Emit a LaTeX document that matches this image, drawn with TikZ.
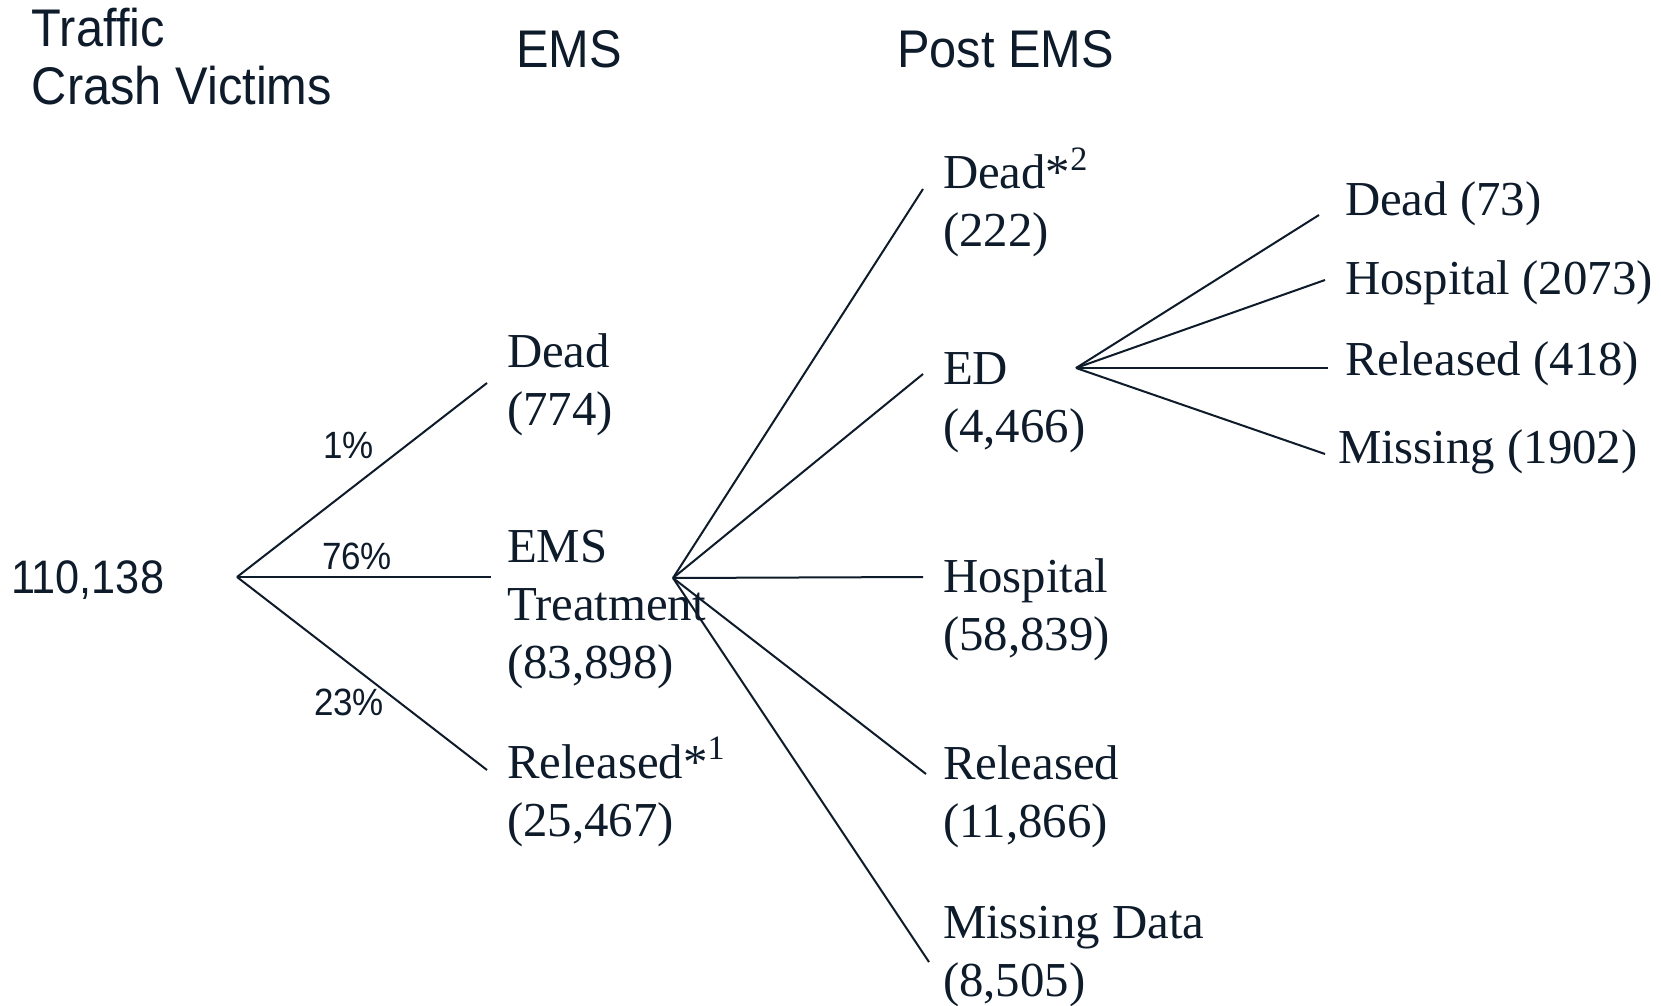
\documentclass[tikz,border=0pt]{standalone}
\usepackage{fontspec}
\setmainfont{Liberation Serif}
\newfontfamily\hdsans[FakeStretch=0.92]{Liberation Sans}
\usetikzlibrary{positioning,calc}
\definecolor{inkblue}{HTML}{0E1B2A}

\begin{document}
\begin{tikzpicture}[
    x=0.5pt, y=-0.5pt,
    every node/.style={inner sep=0pt, outer sep=0pt, text=inkblue},
    head/.style={anchor=base west, align=left, font=\hdsans\fontsize{26.5}{29}\selectfont},
    cnt/.style={anchor=base west, font=\hdsans\fontsize{23.5}{28}\selectfont},
    pct/.style={anchor=base west, font=\hdsans\fontsize{19}{22}\selectfont},
    lbl/.style={anchor=base west, align=left, font=\fontsize{24.4}{29}\selectfont},
    branch/.style={draw=inkblue, line width=1pt}
]
\fill[white] (0,0) rectangle (1661,1006);
\useasboundingbox (0,0) rectangle (1661,1006);

% Column headers (nodes sit on the baseline of their last line)
\node[head] (victims) at (32,105) {Traffic\\Crash Victims};
\node[head] (emshead) at (516,68) {EMS};
\node[head] (posthead) at (897,68) {Post EMS};

% Root
\node[cnt] (total) at (11,593) {110,138};
\coordinate (rootfan) at (237,577);

% EMS level
\node[lbl] (dead) at (507,425) {Dead\\(774)};
\node[lbl] (treat) at (507,678) {EMS\\Treatment\\(83,898)};
\node[lbl] (released) at (507,836) {Released*\textsuperscript{1}\\(25,467)};
\coordinate (deadin) at (487,383);
\coordinate (treatin) at (491,577);
\coordinate (relin) at (487,770);

% Shares
\node[pct] (p1) at (323,458) {1\%};
\node[pct] (p76) at (322,569) {76\%};
\node[pct] (p23) at (314,715) {23\%};

% Post EMS level
\node[lbl] (pdead) at (943,247) {Dead*\textsuperscript{2}\\(222)};
\node[lbl] (ed) at (943,442) {ED\\(4,466)};
\node[lbl] (hosp) at (943,650) {Hospital\\(58,839)};
\node[lbl] (prel) at (943,837) {Released\\(11,866)};
\node[lbl] (pmiss) at (943,996) {Missing Data\\(8,505)};
\coordinate (emsfan) at (673,578);
\coordinate (pdeadin) at (923,189);
\coordinate (edin) at (923,374);
\coordinate (hospin) at (923,577);
\coordinate (prelin) at (926,774);
\coordinate (pmissin) at (929,962);

% ED outcomes
\node[lbl] (eddead) at (1345,215) {Dead (73)};
\node[lbl] (edhosp) at (1345,294) {Hospital (2073)};
\node[lbl] (edrel) at (1345,375) {Released (418)};
\node[lbl] (edmiss) at (1338,463) {Missing (1902)};
\coordinate (edfan) at (1076,368);
\coordinate (eddeadin) at (1319,215);
\coordinate (edhospin) at (1325,280);
\coordinate (edrelin) at (1328,368);
\coordinate (edmissin) at (1325,454);

% Branches
\draw[branch] (rootfan) -- (deadin);
\draw[branch] (rootfan) -- (treatin);
\draw[branch] (rootfan) -- (relin);

\draw[branch] (emsfan) -- (pdeadin);
\draw[branch] (emsfan) -- (edin);
\draw[branch] (emsfan) -- (hospin);
\draw[branch] (emsfan) -- (prelin);
\draw[branch] (emsfan) -- (pmissin);

\draw[branch] (edfan) -- (eddeadin);
\draw[branch] (edfan) -- (edhospin);
\draw[branch] (edfan) -- (edrelin);
\draw[branch] (edfan) -- (edmissin);

\end{tikzpicture}
\end{document}
